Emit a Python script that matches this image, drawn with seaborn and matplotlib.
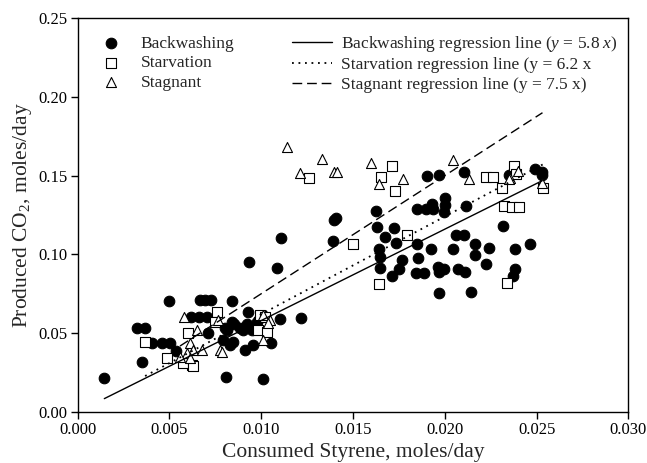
import numpy as np
import pandas as pd
import matplotlib
matplotlib.use("Agg")
import matplotlib.pyplot as plt
import seaborn as sns

# Backwashing runs (filled circles)
back_x = [0.00146, 0.00322, 0.00369, 0.00349, 0.00406, 0.00459, 0.00501, 0.00537,
          0.00498, 0.00618, 0.00662, 0.00704, 0.00667, 0.00694, 0.00727, 0.00712,
          0.00803, 0.00790, 0.00844, 0.00809, 0.01010, 0.00842, 0.00842, 0.00930,
          0.00852, 0.00885, 0.00922, 0.00949, 0.00901, 0.00912, 0.00958, 0.01051,
          0.01100, 0.01217, 0.00814, 0.00831, 0.00936, 0.01088, 0.01108, 0.00976,
          0.01394, 0.01408, 0.01389,
          0.01626, 0.01630, 0.01724, 0.01675, 0.01735, 0.01642, 0.01648, 0.01648,
          0.01766, 0.01753, 0.01710, 0.01905, 0.01969, 0.02105, 0.02489, 0.02528,
          0.02531, 0.02352, 0.01848, 0.01898, 0.01931, 0.01938, 0.02002, 0.02002,
          0.01994, 0.02113, 0.02319, 0.02060, 0.02105, 0.01849, 0.01926, 0.02042,
          0.02162, 0.02239, 0.02381, 0.02465, 0.01856, 0.02165, 0.02225, 0.01844,
          0.01889, 0.01965, 0.01993, 0.01971, 0.02074, 0.02111, 0.02383, 0.02374,
          0.01969, 0.02143]
back_y = [0.0213, 0.0530, 0.0530, 0.0320, 0.0435, 0.0435, 0.0435, 0.0387,
          0.0707, 0.0605, 0.0605, 0.0605, 0.0711, 0.0711, 0.0711, 0.0499,
          0.0530, 0.0454, 0.0441, 0.0219, 0.0209, 0.0707, 0.0573, 0.0636,
          0.0558, 0.0533, 0.0558, 0.0520, 0.0520, 0.0393, 0.0422, 0.0436,
          0.0590, 0.0596, 0.0520, 0.0425, 0.0950, 0.0916, 0.1106, 0.0571,
          0.1221, 0.1228, 0.1085,
          0.1275, 0.1176, 0.1166, 0.1112, 0.1070, 0.1034, 0.0985, 0.0912,
          0.0964, 0.0907, 0.0865, 0.1499, 0.1504, 0.1523, 0.1542, 0.1526,
          0.1501, 0.1504, 0.1288, 0.1288, 0.1317, 0.1288, 0.1356, 0.1313,
          0.1272, 0.1309, 0.1182, 0.1120, 0.1120, 0.1066, 0.1034, 0.1036,
          0.1068, 0.1041, 0.1034, 0.1066, 0.0979, 0.0993, 0.0937, 0.0885,
          0.0885, 0.0922, 0.0905, 0.0886, 0.0905, 0.0886, 0.0907, 0.0865,
          0.0757, 0.0763]

# Starvation runs (open squares)
starv_x = [0.00368, 0.00486, 0.00604, 0.00586, 0.00622, 0.00576, 0.00627, 0.00758,
           0.00749, 0.00994, 0.01021, 0.00985, 0.01031,
           0.01263, 0.01652, 0.01711, 0.01729, 0.01499, 0.01793, 0.01642,
           0.02225, 0.02265, 0.02379, 0.02311, 0.02323, 0.02365, 0.02405,
           0.02537, 0.02341, 0.02388]
starv_y = [0.0446, 0.0345, 0.0499, 0.0319, 0.0298, 0.0309, 0.0292, 0.0636,
           0.0573, 0.0615, 0.0605, 0.0520, 0.0509,
           0.1487, 0.1493, 0.1561, 0.1404, 0.1064, 0.1123, 0.0810,
           0.1489, 0.1489, 0.1563, 0.1423, 0.1307, 0.1299, 0.1299,
           0.1423, 0.0817, 0.1510]

# Stagnant runs (open triangles)
stag_x = [0.00582, 0.00649, 0.00613, 0.00631, 0.00595, 0.00676, 0.00613, 0.00558,
          0.00776, 0.00767, 0.01012, 0.01049, 0.01012, 0.00785, 0.01039,
          0.01143, 0.01330, 0.01212, 0.01397, 0.01415, 0.01599, 0.01644, 0.01771,
          0.02047, 0.02134, 0.02356, 0.02401, 0.02532, 0.02352]
stag_y = [0.0605, 0.0520, 0.0436, 0.0393, 0.0372, 0.0393, 0.0341, 0.0351,
          0.0393, 0.0584, 0.0615, 0.0584, 0.0457, 0.0383, 0.0563,
          0.1683, 0.1603, 0.1515, 0.1521, 0.1525, 0.1582, 0.1447, 0.1476,
          0.1599, 0.1478, 0.1483, 0.1529, 0.1455, 0.1476]

# Regression slopes through the origin
slopes = {"Backwashing": 5.8, "Starvation": 6.2, "Stagnant": 7.5}

x_ticks = [0.000, 0.005, 0.010, 0.015, 0.020, 0.025, 0.030]
y_ticks = [0.00, 0.05, 0.10, 0.15, 0.20, 0.25]

sns.set_style("ticks")
plt.rcParams["font.family"] = ["Liberation Serif", "DejaVu Serif"]
plt.rcParams["mathtext.fontset"] = "custom"
plt.rcParams["mathtext.rm"] = "Liberation Serif"
plt.rcParams["mathtext.it"] = "Liberation Serif:italic"

fig = plt.figure(figsize=(6.47, 4.63), dpi=100)
ax = fig.add_axes([0.1198, 0.1102, 0.8515, 0.8509])

groups = [
    ("Backwashing", back_x, back_y, "o", "black", 58),
    ("Starvation", starv_x, starv_y, "s", "white", 42),
    ("Stagnant", stag_x, stag_y, "^", "white", 52),
]
for name, xs, ys, mk, fc, sz in groups:
    df = pd.DataFrame({"x": xs, "y": ys})
    sns.scatterplot(data=df, x="x", y="y", ax=ax, marker=mk, s=sz,
                    facecolor=fc, edgecolor="black", linewidth=0.8,
                    label=name, zorder=2)

line_labels = {
    "Backwashing": r"Backwashing regression line ($y$ = $5.8\ x$)",
    "Starvation": "Starvation regression line (y = 6.2 x",
    "Stagnant": "Stagnant regression line (y = 7.5 x)",
}
line_styles = {"Backwashing": (None, 1.0), "Starvation": ((1, 2.6), 1.3),
               "Stagnant": ((7, 3.5), 1.0)}
for name, xs, ys, *_ in groups:
    xr = np.array([min(xs), max(xs)])
    ldf = pd.DataFrame({"x": xr, "y": slopes[name] * xr})
    dash, lw = line_styles[name]
    sns.lineplot(data=ldf, x="x", y="y", ax=ax, color="black", lw=lw,
                 label=line_labels[name], zorder=3)
    if dash is not None:
        ax.lines[-1].set_dashes(dash)

ax.set_xlim(0, 0.030)
ax.set_ylim(0, 0.25)
ax.set_xticks(x_ticks)
ax.set_xticklabels([f"{v:.3f}" for v in x_ticks])
ax.set_yticks(y_ticks)
ax.set_yticklabels([f"{v:.2f}" for v in y_ticks])
ax.tick_params(direction="out", length=5, width=1, labelsize=12, colors="black", pad=2)
for sp in ax.spines.values():
    sp.set_visible(True)
    sp.set_linewidth(1.0)
    sp.set_color("black")

ax.set_xlabel("Consumed Styrene, moles/day", fontsize=15.5, labelpad=4)
ax.set_ylabel(r"Produced CO$_2$, moles/day", fontsize=15.5, labelpad=3)

handles, labels = ax.get_legend_handles_labels()
leg = ax.legend(handles, labels, ncol=2, loc="upper left",
                bbox_to_anchor=(0.025, 0.96), frameon=False, fontsize=12.5,
                handlelength=2.3, handletextpad=0.55, columnspacing=3.3,
                labelspacing=0.2, borderaxespad=0, borderpad=0)

fig.savefig("out.png", dpi=100)
